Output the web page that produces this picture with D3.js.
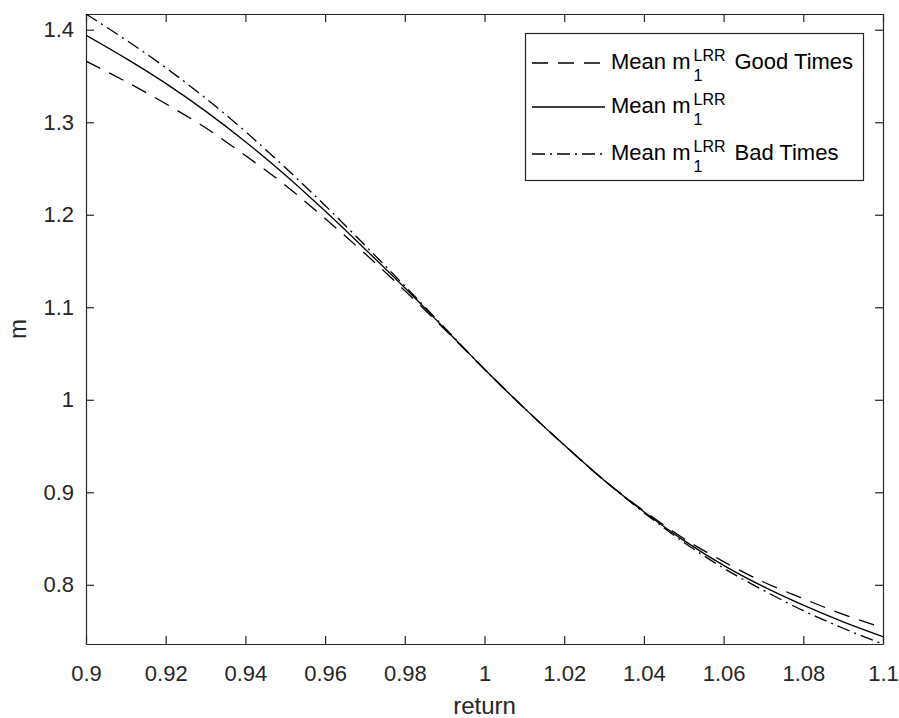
<!DOCTYPE html>
<html>
<head>
<meta charset="utf-8">
<script src="https://cdn.jsdelivr.net/npm/d3@7"></script>
<style>
  body { margin: 0; background: #fff; }
  svg { display: block; font-family: "Liberation Sans", Arial, sans-serif; }
</style>
</head>
<body>
<div id="chart"></div>
<script>
// data
var returns = [0.90, 0.91, 0.92, 0.93, 0.94, 0.95, 0.96, 0.97, 0.98, 0.99, 1.00,
               1.01, 1.02, 1.03, 1.04, 1.05, 1.06, 1.07, 1.08, 1.09, 1.10];
var meanGood = [1.366, 1.344, 1.320, 1.294, 1.264, 1.232, 1.196, 1.158, 1.118, 1.076, 1.033,
                0.991, 0.951, 0.913, 0.880, 0.850, 0.825, 0.803, 0.785, 0.768, 0.7535];
var meanAll = [1.394, 1.369, 1.342, 1.312, 1.279, 1.243, 1.204, 1.163, 1.121, 1.077, 1.033,
               0.991, 0.951, 0.913, 0.879, 0.848, 0.821, 0.798, 0.778, 0.760, 0.744];
var meanBad = [1.417, 1.389, 1.359, 1.326, 1.290, 1.251, 1.210, 1.167, 1.123, 1.078, 1.033,
               0.991, 0.951, 0.913, 0.878, 0.846, 0.818, 0.794, 0.772, 0.753, 0.736];

var xTicks = [0.9, 0.92, 0.94, 0.96, 0.98, 1, 1.02, 1.04, 1.06, 1.08, 1.1];
var xTickLabels = ["0.9", "0.92", "0.94", "0.96", "0.98", "1", "1.02", "1.04", "1.06", "1.08", "1.1"];
var yTicks = [0.8, 0.9, 1, 1.1, 1.2, 1.3, 1.4];
var yTickLabels = ["0.8", "0.9", "1", "1.1", "1.2", "1.3", "1.4"];

var seriesNames = ["Good Times", "", "Bad Times"];
var seriesValues = [meanGood, meanAll, meanBad];
var seriesDash = ["16,10", null, "13,5,2,5"];

// setup
var width = 899, height = 718;
var margin = {left: 86, right: 16, top: 14, bottom: 74};
var axisColor = '#262626';

var svg = d3.select('#chart')
  .append('svg')
  .attr('width', width)
  .attr('height', height);

var x = d3.scaleLinear()
  .domain([0.9, 1.1])
  .range([margin.left, width - margin.right]);

var allVals = meanGood.concat(meanAll, meanBad);
var y = d3.scaleLinear()
  .domain(d3.extent(allVals))
  .range([height - margin.bottom, margin.top]);

var x0 = x.range()[0], x1 = x.range()[1];
var y0 = y.range()[0], y1 = y.range()[1];

// axes (ticks inward, on all four sides)
var fmtX = function(d, i) { return xTickLabels[i]; };
var fmtY = function(d, i) { return yTickLabels[i]; };

svg.append('g')
  .attr('transform', 'translate(0,' + y0 + ')')
  .call(d3.axisBottom(x).tickValues(xTicks).tickFormat(fmtX).tickSizeInner(-8).tickSizeOuter(0).tickPadding(21));
svg.append('g')
  .attr('transform', 'translate(0,' + y1 + ')')
  .call(d3.axisTop(x).tickValues(xTicks).tickFormat('').tickSizeInner(-8).tickSizeOuter(0));
svg.append('g')
  .attr('transform', 'translate(' + x0 + ',0)')
  .call(d3.axisLeft(y).tickValues(yTicks).tickFormat(fmtY).tickSizeInner(-8).tickSizeOuter(0).tickPadding(12));
svg.append('g')
  .attr('transform', 'translate(' + x1 + ',0)')
  .call(d3.axisRight(y).tickValues(yTicks).tickFormat('').tickSizeInner(-8).tickSizeOuter(0));

svg.selectAll('.domain, .tick line')
  .attr('stroke', axisColor)
  .attr('stroke-width', 1.2);
svg.selectAll('.tick text')
  .attr('fill', axisColor)
  .style('font-size', '22px')
  .style('font-family', '"Liberation Sans", Arial, sans-serif');

// axis labels
svg.append('text')
  .attr('x', (x0 + x1) / 2)
  .attr('y', 714)
  .attr('text-anchor', 'middle')
  .attr('fill', axisColor)
  .style('font-size', '24px')
  .text('return');

svg.append('text')
  .attr('transform', 'translate(26,' + ((y0 + y1) / 2) + ') rotate(-90)')
  .attr('text-anchor', 'middle')
  .attr('fill', axisColor)
  .style('font-size', '24px')
  .text('m');

// lines
var line = d3.line()
  .x(function(d, i) { return x(returns[i]); })
  .y(function(d) { return y(d); })
  .curve(d3.curveMonotoneX);

svg.append('defs').append('clipPath').attr('id', 'clip')
  .append('rect')
  .attr('x', x0).attr('y', y1)
  .attr('width', x1 - x0).attr('height', y0 - y1);

svg.append('g')
  .attr('clip-path', 'url(#clip)')
  .selectAll('path')
  .data(seriesValues)
  .enter()
  .append('path')
  .attr('d', line)
  .attr('fill', 'none')
  .attr('stroke', '#000')
  .attr('stroke-width', 1.3)
  .attr('stroke-dasharray', function(d, i) { return seriesDash[i]; });

// legend
var legend = svg.append('g');
legend.append('rect')
  .attr('x', 525.5).attr('y', 33.5)
  .attr('width', 338).attr('height', 147)
  .attr('fill', '#fff')
  .attr('stroke', axisColor)
  .attr('stroke-width', 1.2);

var rowY = [63, 107, 154];
seriesNames.forEach(function(name, i) {
  var row = legend.append('g');
  row.append('line')
    .attr('x1', 532).attr('x2', 605)
    .attr('y1', rowY[i]).attr('y2', rowY[i])
    .attr('stroke', '#000')
    .attr('stroke-width', 1.3)
    .attr('stroke-dasharray', seriesDash[i]);

  var base = rowY[i] + 6;
  var t = row.append('text')
    .attr('x', 611).attr('y', base)
    .attr('fill', '#000')
    .style('font-size', '22px')
    .text('Mean m');
  var w = t.node().getComputedTextLength();
  var sx = 611 + w + 3;
  var sup = row.append('text')
    .attr('x', sx).attr('y', base - 8)
    .attr('fill', '#000')
    .style('font-size', '16px')
    .text('LRR');
  row.append('text')
    .attr('x', sx).attr('y', base + 12)
    .attr('fill', '#000')
    .style('font-size', '16px')
    .text('1');
  if (name) {
    var sw = sup.node().getComputedTextLength();
    row.append('text')
      .attr('x', sx + sw + 9).attr('y', base)
      .attr('fill', '#000')
      .style('font-size', '22px')
      .text(name);
  }
});
</script>
</body>
</html>
